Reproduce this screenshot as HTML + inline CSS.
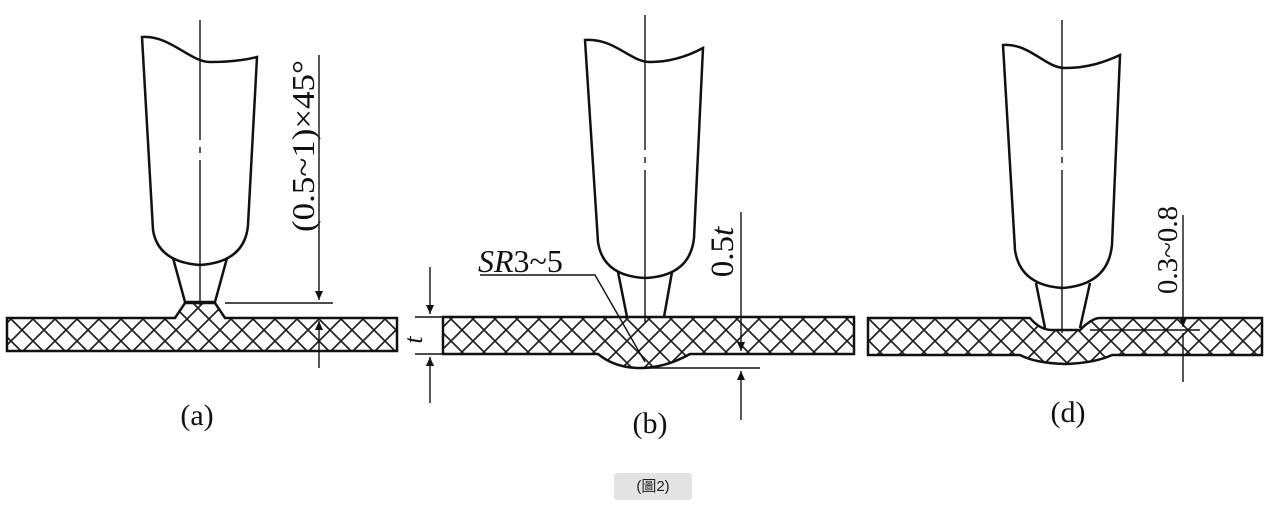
<!DOCTYPE html>
<html><head><meta charset="utf-8"><style>
html,body{margin:0;padding:0;background:#fff;}
body{width:1266px;height:509px;position:relative;overflow:hidden;}
svg{position:absolute;left:0;top:0;}
.cap{position:absolute;left:614px;top:473px;width:78px;height:27px;background:#e3e3e3;border-radius:3px;font:15px "Liberation Sans","Noto Sans CJK TC",sans-serif;color:#222;text-align:center;line-height:27px;}
</style></head><body>
<svg width="1266" height="509" viewBox="0 0 1266 509" xmlns="http://www.w3.org/2000/svg">
<defs>
<pattern id="h" width="22" height="22" patternUnits="userSpaceOnUse">
<path d="M-2,-2 L24,24 M-2,24 L24,-2 M-13,9 L9,-13 M13,35 L35,13 M-13,13 L9,35 M13,-13 L35,9" stroke="#222" stroke-width="1.7"/>
</pattern>
<marker id="ar" markerWidth="10" markerHeight="14" refX="9" refY="4" orient="auto" markerUnits="userSpaceOnUse"><path d="M0,0 L9,4 L0,8 Z" fill="#111"/></marker>
</defs>
<g fill="none" stroke="#111" stroke-width="2.5">
<path d="M142,37 C170,35 190,62 210,62 C230,62 245,60 257,57 L248,225 Q245,262 200,265 Q158,262 153,230 Z" fill="#fff"/>
<path d="M173,258 L185,302 L215,302 L227,258"/>
<path d="M7,318 L175,318 L185,303 L215,303 L225,318 L397,318 L397,351 L7,351 Z" fill="url(#h)"/>
<path d="M585,40 C615,38 630,62 650,62 C672,62 690,55 703,48 L694,238 Q690,276 645,278 Q603,276 598,242 Z" fill="#fff"/>
<path d="M618,272 L627,317 M672,272 L664,317"/>
<path d="M443,317 L854,317 L854,354 L690,354 Q665,368 640,368 Q615,368 598,354 L443,354 Z" fill="url(#h)"/>
<path d="M1003,45 C1030,43 1045,68 1065,68 C1088,68 1105,62 1120,55 L1112,245 Q1108,285 1062,288 Q1020,285 1015,250 Z" fill="#fff"/>
<path d="M1036,283 L1045,328 M1090,283 L1080,328"/>
<path d="M868,318 L1030,318 Q1040,330 1052,330 L1080,330 Q1092,318 1100,318 L1262,318 L1262,355 L1112,355 Q1095,363 1065,364 Q1035,363 1020,355 L868,355 Z" fill="url(#h)"/>
</g>
<g stroke="#111" stroke-width="1.4" fill="none">
<path d="M200,20 V140 M200,147 V153 M200,160 V305"/>
<path d="M645,15 V150 M645,157 V163 M645,170 V322"/>
<path d="M1062,20 V150 M1062,157 V163 M1062,170 V333"/>
<path d="M319,55 V300" marker-end="url(#ar)"/>
<path d="M319,368 V321" marker-end="url(#ar)"/>
<path d="M225,303 H333"/>
<path d="M430,267 V314" marker-end="url(#ar)"/>
<path d="M430,403 V357" marker-end="url(#ar)"/>
<path d="M415,317 H443 M415,354 H443"/>
<path d="M741,212 V351" marker-end="url(#ar)"/>
<path d="M741,420 V371" marker-end="url(#ar)"/>
<path d="M640,368 H760"/>
<path d="M480,275 H595 L645,362"/>
<path d="M1183,215 V327" marker-end="url(#ar)"/>
<path d="M1183,382 V333"/>
<path d="M1090,330 H1200"/>
</g>
<g font-family="Liberation Serif, serif" fill="#111">
<text transform="translate(314,146) rotate(-90)" font-size="32" text-anchor="middle" textLength="172" lengthAdjust="spacingAndGlyphs">(0.5~1)×45°</text>
<text transform="translate(733,252) rotate(-90)" font-size="33" text-anchor="middle">0.5<tspan font-style="italic">t</tspan></text>
<text transform="translate(1177,250) rotate(-90)" font-size="29" text-anchor="middle">0.3~0.8</text>
<text x="422" y="340" font-size="26" font-style="italic" transform="rotate(-90 422 340)" text-anchor="middle">t</text>
<text x="478" y="272" font-size="32"><tspan font-style="italic">SR</tspan>3~5</text>
<text x="197" y="425" font-size="30" text-anchor="middle">(a)</text>
<text x="650" y="433" font-size="30" text-anchor="middle">(b)</text>
<text x="1068" y="422" font-size="30" text-anchor="middle">(d)</text>
</g>
</svg>
<div class="cap">(圖2)</div>
</body></html>
